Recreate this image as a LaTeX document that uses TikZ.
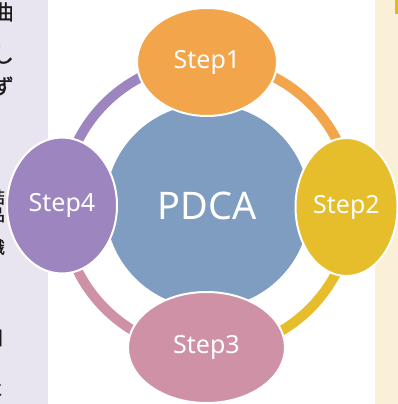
\documentclass[tikz,border=0pt]{standalone}
\usepackage{fontspec}
\setmainfont{Noto Sans}
\newfontfamily\jpfont[FakeBold=1.2]{Noto Sans CJK JP}
\usetikzlibrary{shapes.geometric,calc}
\definecolor{orangeS}{HTML}{F2A54A}
\definecolor{yellowS}{HTML}{E6BD2B}
\definecolor{pinkS}{HTML}{CF91A6}
\definecolor{purpleS}{HTML}{9D85BF}
\definecolor{blueS}{HTML}{7E9DC1}
\definecolor{lav}{HTML}{E9E5F0}
\definecolor{cream}{HTML}{FAF0D8}
\definecolor{goldbar}{HTML}{E6B722}
\definecolor{jptext}{HTML}{1A1A1A}
\begin{document}
\begin{tikzpicture}[x=1pt,y=-1pt,
  stepnode/.style={ellipse, draw=white, line width=2pt, inner sep=0pt,
    text=white, font=\fontsize{25}{25}\selectfont},
  ringarc/.style={line width=10pt},
  jpbig/.style={anchor=east, inner sep=0pt, text=jptext,
    font=\jpfont\fontsize{21}{21}\selectfont},
  jpsmall/.style={anchor=east, inner sep=0pt, text=jptext,
    font=\jpfont\fontsize{17}{17}\selectfont}]
\useasboundingbox (0,0) rectangle (398,404);
% side strips
\fill[lav] (0,0) rectangle (48,404);
\fill[cream] (375,0) rectangle (398,404);
\fill[goldbar] (395,0) rectangle (398,14);
% cut-off Japanese text on the left
\begin{scope}
\clip (0,0) rectangle (48,404);
\node[jpbig] (j1) at (14,12) {曲};
\node[jpbig] (j2) at (14,55) {し};
\node[jpbig] (j3) at (14,86) {ず};
\node[jpsmall] (j4) at (5,197) {結};
\node[jpsmall] (j5) at (5,215) {品};
\node[jpsmall] (j6) at (5,247) {識};
\node[jpbig] (j7) at (4,338) {口};
\node[jpsmall] (j8) at (4,389) {と};
\end{scope}
% centre
\coordinate (C) at (207.5,206);
\node[circle, fill=blueS, minimum size=204pt, inner sep=0pt, text=white,
  font=\fontsize{38}{38}\selectfont] (pdca) at (C) {PDCA};
% ring arcs
\draw[ringarc, orangeS] ($(C)+(-90:145)$) arc[start angle=-90, end angle=0, radius=145];
\draw[ringarc, yellowS] ($(C)+(0:145)$) arc[start angle=0, end angle=90, radius=145];
\draw[ringarc, pinkS] ($(C)+(90:145)$) arc[start angle=90, end angle=180, radius=145];
\draw[ringarc, purpleS] ($(C)+(180:145)$) arc[start angle=180, end angle=270, radius=145];
% step ellipses
\node[stepnode, fill=orangeS, minimum width=140pt, minimum height=108pt] (s1) at (207,62) {Step1};
\node[stepnode, fill=yellowS, minimum width=102pt, minimum height=138pt] (s2) at (346.5,207) {Step2};
\node[stepnode, fill=pinkS, minimum width=157pt, minimum height=111pt] (s3) at (206.5,347.5) {Step3};
\node[stepnode, fill=purpleS, minimum width=110pt, minimum height=136pt] (s4) at (62,205.5) {Step4};
\end{tikzpicture}
\end{document}
